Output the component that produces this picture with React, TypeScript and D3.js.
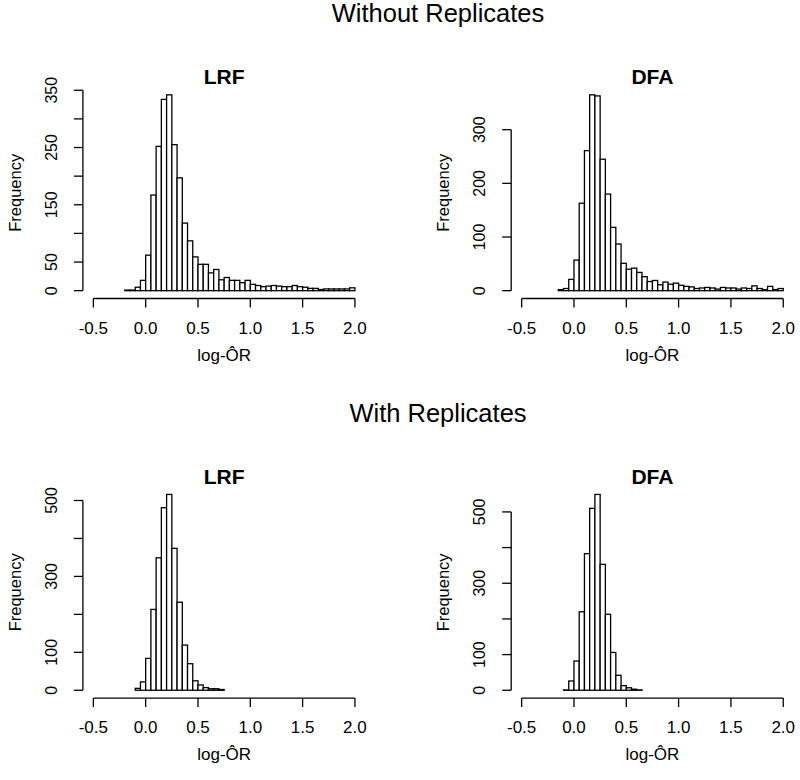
import React from "react";
import * as d3 from "d3";

const BIN = 0.05;

const lrfWithoutStart = -0.2;
const lrfWithoutCounts = [1, 1, 6, 18, 62, 167, 252, 334, 342, 255, 197, 118, 87, 59, 46, 46, 31, 37, 19, 23, 18, 18, 14, 18, 11, 9, 7, 8, 9, 8, 7, 7, 9, 7, 6, 4, 4, 2, 3, 3, 3, 3, 3, 5];

const dfaWithoutStart = -0.15;
const dfaWithoutCounts = [2, 4, 21, 57, 163, 261, 365, 363, 245, 180, 118, 87, 51, 40, 42, 34, 26, 17, 19, 11, 16, 12, 14, 10, 8, 7, 4, 5, 6, 5, 3, 6, 5, 5, 3, 5, 4, 9, 4, 2, 8, 2, 4];

const lrfWithStart = -0.1;
const lrfWithCounts = [5, 22, 84, 213, 349, 481, 516, 374, 232, 119, 70, 25, 14, 7, 4, 4, 2];

const dfaWithStart = -0.1;
const dfaWithCounts = [1, 26, 82, 220, 383, 510, 549, 353, 213, 106, 42, 13, 7, 3, 1];

const xTicks = [-0.5, 0, 0.5, 1, 1.5, 2];
const xTickLabels = ["-0.5", "0.0", "0.5", "1.0", "1.5", "2.0"];

const yTicksTL = [0, 50, 100, 150, 200, 250, 300, 350];
const yLabelsTL = [0, 50, 150, 250, 350];
const yTicksTR = [0, 100, 200, 300];
const yLabelsTR = [0, 100, 200, 300];
const yTicksB = [0, 100, 200, 300, 400, 500];
const yLabelsB = [0, 100, 300, 500];

const rowTitles = ["Without Replicates", "With Replicates"];
const panelTitles = ["LRF", "DFA"];
const xLabel = "log-ÔR";

const FONT = "'Liberation Sans', Arial, Helvetica, sans-serif";

type PanelProps = {
  x0: number;
  y0: number;
  title: string;
  start: number;
  counts: number[];
  yTicks: number[];
  yLabels: number[];
};

function Panel({ x0, y0, title, start, counts, yTicks, yLabels }: PanelProps) {
  const W = 282.5;
  const H = 211.5;
  const max = d3.max(counts) as number;
  const x = d3.scaleLinear().domain([-0.6, 2.1]).range([x0, x0 + W]);
  const y = d3.scaleLinear().domain([-0.04 * max, 1.04 * max]).range([y0 + H, y0]);
  const bottom = y0 + H;
  const sw = 1.3;
  const labB = bottom + 62;
  return (
    <g>
      {counts.map((c, i) => {
        const a = start + i * BIN;
        const b = a + BIN;
        return (
          <rect
            key={i}
            x={x(a)}
            y={y(c)}
            width={x(b) - x(a)}
            height={y(0) - y(c)}
            fill="white"
            stroke="black"
            strokeWidth={sw}
          />
        );
      })}
      <line x1={x(xTicks[0])} x2={x(xTicks[xTicks.length - 1])} y1={bottom} y2={bottom} stroke="black" strokeWidth={sw} />
      {xTicks.map((t, i) => (
        <g key={i}>
          <line x1={x(t)} x2={x(t)} y1={bottom} y2={bottom + 9} stroke="black" strokeWidth={sw} />
          <text x={x(t)} y={bottom + 35} textAnchor="middle" fontSize={17} fontFamily={FONT}>
            {xTickLabels[i]}
          </text>
        </g>
      ))}
      <line x1={x0} x2={x0} y1={y(0)} y2={y(yTicks[yTicks.length - 1])} stroke="black" strokeWidth={sw} />
      {yTicks.map((t, i) => (
        <line key={i} x1={x0} x2={x0 - 9} y1={y(t)} y2={y(t)} stroke="black" strokeWidth={sw} />
      ))}
      {yLabels.map((t, i) => (
        <text
          key={i}
          x={x0 - 26}
          y={y(t)}
          transform={`rotate(-90, ${x0 - 26}, ${y(t)})`}
          textAnchor="middle"
          fontSize={16}
          fontFamily={FONT}
        >
          {t}
        </text>
      ))}
      <text
        x={x0 - 62}
        y={y0 + H / 2}
        transform={`rotate(-90, ${x0 - 62}, ${y0 + H / 2})`}
        textAnchor="middle"
        fontSize={16.5}
        fontFamily={FONT}
      >
        Frequency
      </text>
      <text x={x0 + W / 2} y={labB} textAnchor="middle" fontSize={17} fontFamily={FONT}>
        {xLabel}
      </text>
      <text x={x0 + W / 2} y={y0 - 3} textAnchor="middle" fontSize={21} fontWeight="bold" fontFamily={FONT}>
        {title}
      </text>
    </g>
  );
}

export default function App() {
  const colX = [82.9, 511.2];
  const rowY = [87, 486.6];
  const rowOffset = rowY[1] - rowY[0];
  return (
    <svg
      width={800}
      height={780}
      style={{ position: "absolute", left: 0, top: 0, background: "white" }}
    >
      <rect x={0} y={0} width={800} height={780} fill="white" />
      {rowTitles.map((t, r) => (
        <text key={t} x={438} y={22 + r * rowOffset} textAnchor="middle" fontSize={25.5} fontFamily={FONT}>
          {t}
        </text>
      ))}
      <Panel x0={colX[0]} y0={rowY[0]} title={panelTitles[0]} start={lrfWithoutStart} counts={lrfWithoutCounts} yTicks={yTicksTL} yLabels={yLabelsTL} />
      <Panel x0={colX[1]} y0={rowY[0]} title={panelTitles[1]} start={dfaWithoutStart} counts={dfaWithoutCounts} yTicks={yTicksTR} yLabels={yLabelsTR} />
      <Panel x0={colX[0]} y0={rowY[1]} title={panelTitles[0]} start={lrfWithStart} counts={lrfWithCounts} yTicks={yTicksB} yLabels={yLabelsB} />
      <Panel x0={colX[1]} y0={rowY[1]} title={panelTitles[1]} start={dfaWithStart} counts={dfaWithCounts} yTicks={yTicksB} yLabels={yLabelsB} />
    </svg>
  );
}
